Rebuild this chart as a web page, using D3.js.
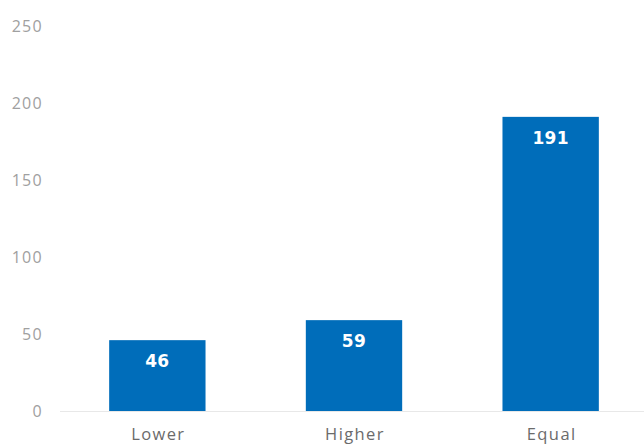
<!DOCTYPE html>
<html>
<head>
<meta charset="utf-8">
<script src="https://cdn.jsdelivr.net/npm/d3@7"></script>
<style>
  body { margin: 0; background: #fff; }
  text { font-family: "Open Sans", "Noto Sans", sans-serif; }
</style>
</head>
<body>
<div class="chart"></div>
<script>
// chart data
var categories = ["Lower", "Higher", "Equal"];
var values = [46, 59, 191];
var yTicks = [0, 50, 100, 150, 200, 250];

(function () {
    var width = 644, height = 445;
    var left = 60, right = 648, top = 26, bottom = 411;

    var svg = d3.select(".chart").append("svg")
        .attr("width", width)
        .attr("height", height);

    var x = d3.scaleBand()
        .domain(categories)
        .range([left, right])
        .paddingInner(0.51)
        .paddingOuter(0.25);

    var y = d3.scaleLinear()
        .domain([0, 250])
        .range([bottom, top]);

    // y axis labels, no line
    var yAxis = svg.append("g")
        .attr("transform", "translate(" + (left - 17) + ",0)")
        .call(d3.axisLeft(y).tickValues(yTicks).tickSize(0).tickPadding(0));
    yAxis.select(".domain").remove();
    yAxis.selectAll("text")
        .attr("fill", "#a0a0a0")
        .style("font-size", "16px")
        .style("letter-spacing", "1.3px");

    // bars
    var data = categories.map(function (c, i) { return { cat: c, val: values[i] }; });

    svg.append("g").selectAll("rect")
        .data(data)
        .enter().append("rect")
        .attr("x", function (d) { return x(d.cat); })
        .attr("y", function (d) { return y(d.val); })
        .attr("width", x.bandwidth())
        .attr("height", function (d) { return y(0) - y(d.val); })
        .attr("fill", "#006dba");

    svg.append("g").selectAll("text")
        .data(data)
        .enter().append("text")
        .attr("x", function (d) { return x(d.cat) + x.bandwidth() / 2; })
        .attr("y", function (d) { return y(d.val) + 27; })
        .attr("text-anchor", "middle")
        .attr("fill", "#fff")
        .style("font-family", "'DejaVu Sans', sans-serif")
        .style("font-size", "17px")
        .style("font-weight", "bold")
        .style("letter-spacing", "0.3px")
        .text(function (d) { return d.val; });

    // baseline
    svg.append("line")
        .attr("x1", left).attr("x2", width)
        .attr("y1", bottom + 0.5).attr("y2", bottom + 0.5)
        .attr("stroke", "#e8e8e8")
        .attr("stroke-width", 1);

    // x axis labels
    var xAxis = svg.append("g")
        .attr("transform", "translate(1," + bottom + ")")
        .call(d3.axisBottom(x).tickSize(0).tickPadding(17));
    xAxis.select(".domain").remove();
    xAxis.selectAll("text")
        .attr("fill", "#6b6b6b")
        .style("font-size", "16.5px")
        .style("letter-spacing", "1.4px");
})();
</script>
</body>
</html>
